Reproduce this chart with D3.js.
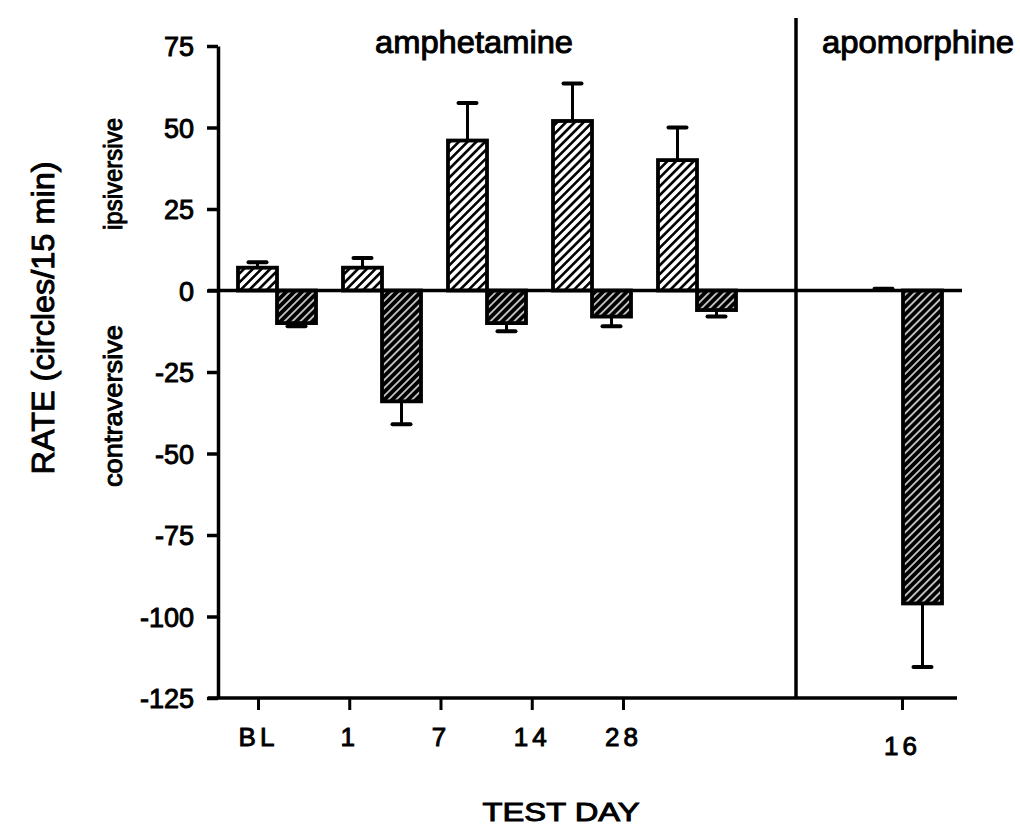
<!DOCTYPE html>
<html>
<head>
<meta charset="utf-8">
<script src="https://cdn.jsdelivr.net/npm/d3@7"></script>
<style>
  html, body { margin: 0; padding: 0; background: #fff; }
  svg { display: block; }
  text { font-family: "Liberation Sans", Arial, Helvetica, sans-serif; fill: #000; stroke: #000; stroke-width: 0.95px; }
</style>
</head>
<body>
<svg id="chart" width="1020" height="835"></svg>
<script>
// Rotation rate per test day (circles / 15 min); positive = ipsiversive, negative = contraversive
const amphDays       = ["BL", "1", "7", "14", "28"];
const amphIpsi       = [7, 7, 46, 52, 40];
const amphIpsiSem    = [1.7, 3, 11.5, 11.5, 10];
const amphContra     = [-10, -34, -10, -8, -6];
const amphContraSem  = [1, 7, 2.5, 3, 2];

const apoDays        = ["16"];
const apoIpsi        = [0];
const apoIpsiSem     = [0.5];
const apoContra      = [-96];
const apoContraSem   = [19.5];

const yTicks = [75, 50, 25, 0, -25, -50, -75, -100, -125];

const svg = d3.select("#chart");
svg.append("rect").attr("width", 1020).attr("height", 835).attr("fill", "#fff");

// Layout
const axisX = 218;
const zeroRight = 962;
const bottomRight = 957;
const dividerX = 796;

const y = d3.scaleLinear().domain([-125, 75]).range([698, 46]);

// Hatch fills
const defs = svg.append("defs");
const light = defs.append("pattern")
  .attr("id", "hatch-light").attr("patternUnits", "userSpaceOnUse")
  .attr("width", 6.2).attr("height", 6.2).attr("patternTransform", "rotate(45)");
light.append("rect").attr("width", 6.2).attr("height", 6.2).attr("fill", "#fff");
light.append("line").attr("x1", 3.1).attr("y1", 0).attr("x2", 3.1).attr("y2", 6.2)
  .attr("stroke", "#000").attr("stroke-width", 2.6);

const dark = defs.append("pattern")
  .attr("id", "hatch-dark").attr("patternUnits", "userSpaceOnUse")
  .attr("width", 5.6).attr("height", 5.6).attr("patternTransform", "rotate(45)");
dark.append("rect").attr("width", 5.6).attr("height", 5.6).attr("fill", "#000");
dark.append("line").attr("x1", 2.8).attr("y1", 0).attr("x2", 2.8).attr("y2", 5.6)
  .attr("stroke", "#fff").attr("stroke-width", 1.4);

const panels = [
  { name: "amphetamine", days: amphDays, ipsi: amphIpsi, ipsiSem: amphIpsiSem,
    contra: amphContra, contraSem: amphContraSem,
    band: [224.5, 749.5], tickRange: [258, 623], labelPad: 18,
    title: { x: 474, len: 198 } },
  { name: "apomorphine", days: apoDays, ipsi: apoIpsi, ipsiSem: apoIpsiSem,
    contra: apoContra, contraSem: apoContraSem,
    band: [850.5, 955.5], tickRange: [902, 902], labelPad: 27,
    title: { x: 918, len: 192 } }
];

const sides = ["ipsi", "contra"];
const fillFor = { ipsi: "url(#hatch-light)", contra: "url(#hatch-dark)" };

panels.forEach(p => {
  const x0 = d3.scaleBand().domain(p.days).range(p.band).paddingInner(0.257).paddingOuter(0.1285);
  const x1 = d3.scaleBand().domain(sides).range([0, x0.bandwidth()]);

  const rows = p.days.flatMap((d, i) => [
    { day: d, side: "ipsi", v: p.ipsi[i], sem: p.ipsiSem[i] },
    { day: d, side: "contra", v: p.contra[i], sem: p.contraSem[i] }
  ]);

  const g = svg.append("g");

  // error bars
  const eb = g.selectAll("g.err").data(rows).join("g").attr("class", "err");
  const cx = r => x0(r.day) + x1(r.side) + x1.bandwidth() / 2;
  const tip = r => r.v + (r.v >= 0 ? r.sem : -r.sem);
  eb.append("line")
    .attr("x1", cx).attr("x2", cx)
    .attr("y1", r => y(r.v)).attr("y2", r => y(tip(r)))
    .attr("stroke", "#000").attr("stroke-width", 3);
  eb.append("line")
    .attr("x1", r => cx(r) - 9).attr("x2", r => cx(r) + 9)
    .attr("y1", r => y(tip(r))).attr("y2", r => y(tip(r)))
    .attr("stroke", "#000").attr("stroke-width", 4).attr("stroke-linecap", "round");

  // bars
  g.selectAll("rect.bar").data(rows.filter(r => r.v !== 0)).join("rect")
    .attr("class", "bar")
    .attr("x", r => x0(r.day) + x1(r.side))
    .attr("width", x1.bandwidth())
    .attr("y", r => y(Math.max(r.v, 0)))
    .attr("height", r => Math.abs(y(r.v) - y(0)))
    .attr("fill", r => fillFor[r.side])
    .attr("stroke", "#000").attr("stroke-width", 3.8);

  // day axis
  const xt = d3.scalePoint().domain(p.days).range(p.tickRange);
  const ax = svg.append("g").attr("transform", `translate(0,${y(-125)})`)
    .call(d3.axisBottom(xt).tickSize(12).tickSizeOuter(0).tickPadding(p.labelPad));
  ax.select(".domain").remove();
  ax.selectAll(".tick line").attr("stroke", "#000").attr("stroke-width", 3);
  ax.selectAll(".tick text").attr("font-size", 26).attr("letter-spacing", "4px")
    .style("font-family", "'Liberation Sans', Arial, sans-serif");

  // drug title
  svg.append("text")
    .attr("x", p.title.x).attr("y", 53)
    .attr("text-anchor", "middle").attr("font-size", 31)
    .attr("textLength", p.title.len).attr("lengthAdjust", "spacingAndGlyphs")
    .text(p.name);
});

// rate axis
const yAxis = svg.append("g").attr("transform", `translate(${axisX},0)`)
  .call(d3.axisLeft(y).tickValues(yTicks).tickSize(11).tickSizeOuter(0).tickPadding(13)
    .tickFormat(d => String(d)));
yAxis.select(".domain").attr("stroke", "#000").attr("stroke-width", 3.5);
yAxis.selectAll(".tick line").attr("stroke", "#000").attr("stroke-width", 3.5);
yAxis.selectAll(".tick text").attr("font-size", 27).attr("dy", "0.36em")
  .style("font-family", "'Liberation Sans', Arial, sans-serif");

// zero line, bottom line, divider
svg.append("line").attr("x1", axisX - 10).attr("x2", zeroRight)
  .attr("y1", y(0)).attr("y2", y(0)).attr("stroke", "#000").attr("stroke-width", 3.5);
svg.append("line").attr("x1", axisX - 10).attr("x2", bottomRight)
  .attr("y1", y(-125)).attr("y2", y(-125)).attr("stroke", "#000").attr("stroke-width", 3.5);
svg.append("line").attr("x1", dividerX).attr("x2", dividerX)
  .attr("y1", 18).attr("y2", y(-125)).attr("stroke", "#000").attr("stroke-width", 3.5);

// axis titles
svg.append("text")
  .attr("transform", "translate(54,318) rotate(-90)")
  .attr("text-anchor", "middle").attr("font-size", 31)
  .attr("textLength", 313).attr("lengthAdjust", "spacingAndGlyphs")
  .text("RATE (circles/15 min)");
svg.append("text")
  .attr("transform", "translate(122,174) rotate(-90)")
  .attr("text-anchor", "middle").attr("font-size", 25)
  .attr("textLength", 112).attr("lengthAdjust", "spacingAndGlyphs")
  .text("ipsiversive");
svg.append("text")
  .attr("transform", "translate(122,406) rotate(-90)")
  .attr("text-anchor", "middle").attr("font-size", 26)
  .attr("textLength", 162).attr("lengthAdjust", "spacingAndGlyphs")
  .text("contraversive");
svg.append("text")
  .attr("x", 561).attr("y", 821)
  .attr("text-anchor", "middle").attr("font-size", 26)
  .attr("textLength", 157).attr("lengthAdjust", "spacingAndGlyphs")
  .text("TEST DAY");
</script>
</body>
</html>
